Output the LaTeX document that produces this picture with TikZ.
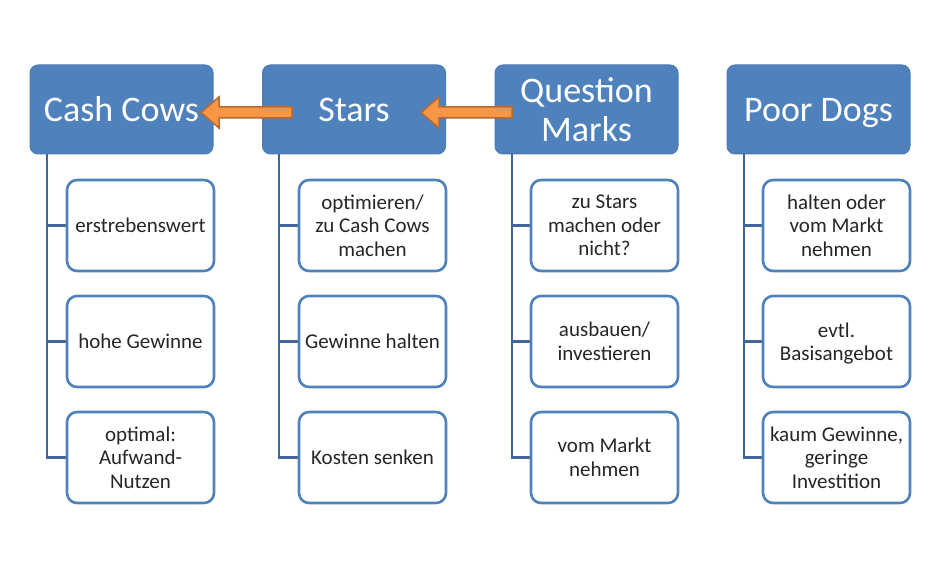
\documentclass[tikz,border=0pt]{standalone}
\usepackage{fontspec}
\setmainfont{Carlito}
\definecolor{hdrblue}{HTML}{4F81BD}
\definecolor{hdredge}{HTML}{4A7BB5}
\definecolor{lineblue}{HTML}{41679A}
\definecolor{orng}{HTML}{F79646}
\definecolor{orngedge}{HTML}{B8692F}
\newcommand{\nodepth}[1]{\raisebox{0pt}[\height][0pt]{#1}}
\begin{document}
\begin{tikzpicture}[x=1pt,y=-1pt,
  hdr/.style={draw=hdredge,line width=1pt,fill=hdrblue,rounded corners=8pt,
    minimum width=183pt,minimum height=89pt,text=white,align=center,inner sep=0pt,
    font=\fontsize{36}{39}\selectfont},
  child/.style={draw=hdrblue,line width=2.6pt,fill=white,rounded corners=10pt,
    minimum width=147pt,minimum height=91pt,text=black!85,align=center,inner sep=0pt,
    font=\fontsize{21}{23.5}\selectfont},
  conn/.style={draw=lineblue,line width=2.8pt},
  blockarrow/.style={fill=orng,draw=orngedge,line width=1.5pt,line join=miter}
]
\useasboundingbox (0,0) rectangle (945,567);

% headers
\node[hdr] (cc) at (121.5,109.5) {Cash Cows};
\node[hdr] (st) at (354,109.5) {Stars};
\node[hdr] (qm) at (586.5,109.5) {Question\\Marks};
\node[hdr] (pd) at (818.5,109.5) {\nodepth{Poor Dogs}};

% children
\node[child] (cc1) at (140.5,225.5) {erstrebenswert};
\node[child] (cc2) at (140.5,341.5) {hohe Gewinne};
\node[child] (cc3) at (140.5,457.5) {optimal:\\Aufwand-\\Nutzen};

\node[child] (st1) at (372.5,225.5) {optimieren/\\zu Cash Cows\\machen};
\node[child] (st2) at (372.5,341.5) {Gewinne halten};
\node[child] (st3) at (372.5,457.5) {Kosten senken};

\node[child] (qm1) at (604.5,225.5) {zu Stars\\machen oder\\nicht?};
\node[child] (qm2) at (604.5,341.5) {ausbauen/\\investieren};
\node[child] (qm3) at (604.5,457.5) {vom Markt\\nehmen};

\node[child] (pd1) at (836.5,225.5) {halten oder\\vom Markt\\nehmen};
\node[child] (pd2) at (836.5,341.5) {evtl.\\\nodepth{Basisangebot}};
\node[child] (pd3) at (836.5,457.5) {kaum Gewinne,\\geringe\\Investition};

% connectors
\foreach \h/\a/\b/\c/\x in {cc/cc1/cc2/cc3/47, st/st1/st2/st3/279, qm/qm1/qm2/qm3/512, pd/pd1/pd2/pd3/744}{
  \coordinate (\h top) at (\x,0 |- \h.south);
  \draw[conn] (\h top) -- (\h top |- \c.west) -- (\c.west);
  \draw[conn] (\h top |- \a.west) -- (\a.west);
  \draw[conn] (\h top |- \b.west) -- (\b.west);
}

% block arrows
\draw[blockarrow] (201,112.5) -- (219,97) -- (219,107) -- (292,107) -- (292,118) -- (219,118) -- (219,128) -- cycle;
\draw[blockarrow] (421,112.5) -- (439,97) -- (439,107) -- (512,107) -- (512,118) -- (439,118) -- (439,128) -- cycle;
\end{tikzpicture}
\end{document}
